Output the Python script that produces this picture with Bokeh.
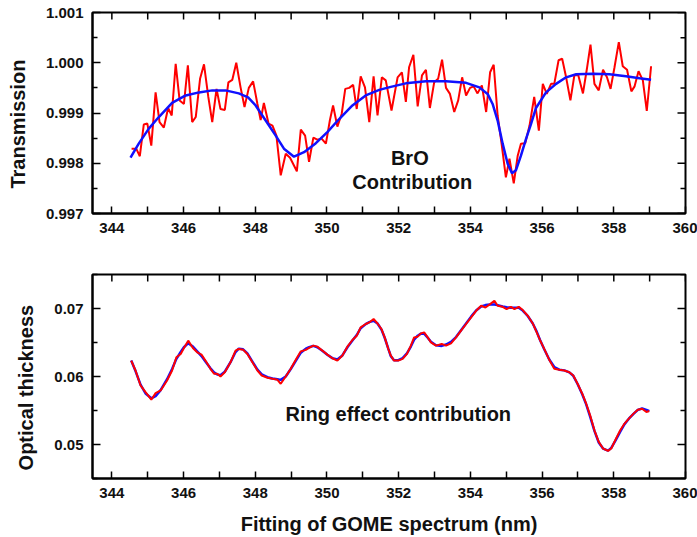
import math
from bokeh.plotting import figure
from bokeh.models import FixedTicker, PrintfTickFormatter, Label, Range1d
from bokeh.layouts import column
from bokeh.embed import file_html
from bokeh.resources import INLINE

FONT = "Liberation Sans"
TXT = "#111111"
NBSP = "\u00a0"

# ---------------- data ----------------
x_major = [344, 346, 348, 350, 352, 354, 356, 358, 360]
x_minor = [345, 347, 349, 351, 353, 355, 357, 359]

bro_major = [0.997, 0.998, 0.999, 1.000, 1.001]
bro_minor = [0.9975, 0.9985, 0.9995, 1.0005]
ring_major = [0.05, 0.06, 0.07]
ring_minor = [0.045, 0.055, 0.065, 0.075]

# BrO contribution: measured (red) and fitted (blue) transmission
bro_meas_x = [344.55, 344.68, 344.78, 344.89, 344.99, 345.10, 345.22, 345.33, 345.45, 345.57,
              345.67, 345.78, 345.89, 346.01, 346.12, 346.24, 346.34, 346.46, 346.57, 346.69,
              346.80, 346.92, 347.03, 347.15, 347.25, 347.36, 347.47, 347.59, 347.70, 347.82,
              347.94, 348.06, 348.15, 348.24, 348.37, 348.48, 348.59, 348.71, 348.85, 348.97,
              349.16, 349.27, 349.39, 349.50, 349.62, 349.73, 349.85, 349.97, 350.08, 350.17,
              350.29, 350.41, 350.51, 350.62, 350.73, 350.83, 350.94, 351.06, 351.18, 351.30,
              351.41, 351.53, 351.64, 351.80, 351.97, 352.09, 352.20, 352.29, 352.41, 352.53,
              352.65, 352.76, 352.87, 352.99, 353.10, 353.21, 353.32, 353.43, 353.55, 353.66,
              353.77, 353.88, 353.99, 354.09, 354.20, 354.32, 354.44, 354.55, 354.65, 354.76,
              354.87, 354.99, 355.09, 355.21, 355.32, 355.41, 355.53, 355.65, 355.78, 355.91,
              356.02, 356.13, 356.25, 356.34, 356.46, 356.56, 356.67, 356.79, 356.90, 357.01,
              357.14, 357.25, 357.35, 357.46, 357.58, 357.70, 357.81, 357.91, 358.02, 358.14,
              358.25, 358.37, 358.49, 358.58, 358.69, 358.81, 358.92, 359.04]
bro_meas_y = [0.99829, 0.99829, 0.99814, 0.99877, 0.99879, 0.99835, 0.99941, 0.99882, 0.99871, 0.99910,
              0.99895, 0.99998, 0.99925, 0.99918, 0.99995, 0.99882, 0.99892, 0.99968, 0.99997, 0.99932,
              0.99882, 0.99948, 0.99908, 0.99906, 0.99961, 0.99966, 1.00000, 0.99951, 0.99912, 0.99950,
              0.99963, 0.99918, 0.99886, 0.99920, 0.99879, 0.99875, 0.99855, 0.99776, 0.99819, 0.99811,
              0.99784, 0.99867, 0.99855, 0.99803, 0.99851, 0.99847, 0.99849, 0.99839, 0.99885, 0.99915,
              0.99873, 0.99898, 0.99948, 0.99950, 0.99956, 0.99908, 0.99973, 0.99951, 0.99882, 0.99973,
              0.99895, 0.99971, 0.99965, 0.99905, 0.99971, 0.99981, 0.99922, 0.99991, 1.00016, 0.99913,
              0.99975, 0.99986, 0.99910, 0.99961, 0.99968, 1.00006, 0.99950, 0.99938, 0.99902, 0.99925,
              0.99971, 0.99935, 0.99950, 0.99953, 0.99939, 0.99955, 0.99902, 0.99981, 0.99996, 0.99895,
              0.99839, 0.99772, 0.99809, 0.99760, 0.99815, 0.99839, 0.99840, 0.99875, 0.99932, 0.99865,
              0.99958, 0.99938, 0.99958, 0.99958, 1.00005, 1.00008, 0.99971, 0.99925, 0.99975, 0.99975,
              0.99939, 0.99988, 1.00036, 0.99958, 0.99945, 0.99986, 0.99971, 0.99948, 0.99991, 1.00041,
              0.99993, 0.99986, 0.99943, 0.99953, 0.99983, 0.99965, 0.99904, 0.99993]

bro_fit_x = [344.52, 344.75, 345.03, 345.31, 345.68, 346.06, 346.43, 346.80, 347.17, 347.54,
             347.80, 348.01, 348.29, 348.57, 348.80, 349.08, 349.36, 349.69, 350.01, 350.34,
             350.71, 351.08, 351.46, 351.78, 352.20, 352.76, 353.32, 353.88, 354.25, 354.48,
             354.62, 354.76, 354.90, 355.04, 355.16, 355.27, 355.41, 355.55, 355.69, 355.83,
             356.11, 356.39, 356.67, 356.95, 357.42, 357.88, 358.34, 358.72, 359.04]
bro_fit_y = [0.99811, 0.99839, 0.99869, 0.99892, 0.99920, 0.99935, 0.99941, 0.99945, 0.99945, 0.99939,
             0.99931, 0.99915, 0.99885, 0.99855, 0.99829, 0.99813, 0.99822, 0.99840, 0.99862, 0.99888,
             0.99915, 0.99935, 0.99946, 0.99952, 0.99959, 0.99963, 0.99963, 0.99960, 0.99951, 0.99938,
             0.99918, 0.99885, 0.99839, 0.99799, 0.99780, 0.99786, 0.99815, 0.99848, 0.99878, 0.99910,
             0.99941, 0.99958, 0.99971, 0.99977, 0.99978, 0.99977, 0.99973, 0.99969, 0.99966]

# Ring effect contribution: measured (red) and fitted (blue) optical thickness
ring_x = [344.54, 344.66, 344.80, 344.94, 345.10, 345.22, 345.36, 345.54, 345.68, 345.80,
          345.92, 346.01, 346.13, 346.26, 346.38, 346.50, 346.61, 346.75, 346.85, 346.94,
          347.03, 347.15, 347.31, 347.45, 347.54, 347.66, 347.78, 347.92, 348.06, 348.18,
          348.34, 348.48, 348.62, 348.71, 348.85, 348.99, 349.13, 349.27, 349.41, 349.50,
          349.62, 349.73, 349.87, 350.01, 350.15, 350.29, 350.43, 350.57, 350.71, 350.83,
          350.94, 351.08, 351.18, 351.30, 351.41, 351.52, 351.61, 351.71, 351.78, 351.87,
          351.99, 352.11, 352.23, 352.34, 352.43, 352.53, 352.62, 352.71, 352.81, 352.90,
          353.04, 353.20, 353.32, 353.46, 353.60, 353.74, 353.88, 354.02, 354.16, 354.30,
          354.42, 354.55, 354.67, 354.76, 354.90, 355.01, 355.13, 355.23, 355.35, 355.46,
          355.60, 355.74, 355.85, 355.94, 356.06, 356.20, 356.34, 356.48, 356.62, 356.76,
          356.87, 356.99, 357.12, 357.23, 357.34, 357.46, 357.58, 357.70, 357.84, 357.93,
          358.05, 358.18, 358.30, 358.42, 358.55, 358.67, 358.79, 358.91, 358.99]
ring_meas = [0.06234, 0.06088, 0.05868, 0.05770, 0.05659, 0.05756, 0.05795, 0.05941, 0.06088, 0.06283,
             0.06332, 0.06420, 0.06527, 0.06420, 0.06356, 0.06322, 0.06234, 0.06113, 0.06040, 0.06040,
             0.06000, 0.06063, 0.06209, 0.06381, 0.06406, 0.06395, 0.06332, 0.06209, 0.06088, 0.06015,
             0.05981, 0.05966, 0.05952, 0.05893, 0.06000, 0.06113, 0.06246, 0.06370, 0.06391, 0.06420,
             0.06454, 0.06439, 0.06381, 0.06322, 0.06268, 0.06234, 0.06308, 0.06439, 0.06537, 0.06600,
             0.06722, 0.06772, 0.06795, 0.06845, 0.06780, 0.06698, 0.06575, 0.06406, 0.06308, 0.06234,
             0.06234, 0.06259, 0.06332, 0.06454, 0.06575, 0.06586, 0.06634, 0.06649, 0.06575, 0.06502,
             0.06454, 0.06479, 0.06454, 0.06488, 0.06575, 0.06674, 0.06772, 0.06868, 0.06966, 0.07040,
             0.07015, 0.07064, 0.07113, 0.07040, 0.07025, 0.06991, 0.07025, 0.06991, 0.07025, 0.06977,
             0.06893, 0.06780, 0.06649, 0.06537, 0.06406, 0.06245, 0.06113, 0.06098, 0.06088, 0.06063,
             0.06015, 0.05893, 0.05747, 0.05600, 0.05429, 0.05209, 0.05038, 0.04941, 0.04906, 0.04941,
             0.05073, 0.05209, 0.05308, 0.05381, 0.05454, 0.05512, 0.05527, 0.05477, 0.05492]
ring_fit = [0.06234, 0.06080, 0.05880, 0.05750, 0.05680, 0.05710, 0.05800, 0.05960, 0.06110, 0.06260,
            0.06360, 0.06430, 0.06490, 0.06440, 0.06370, 0.06300, 0.06220, 0.06120, 0.06060, 0.06030,
            0.06020, 0.06070, 0.06210, 0.06360, 0.06410, 0.06400, 0.06340, 0.06220, 0.06100, 0.06030,
            0.05990, 0.05970, 0.05960, 0.05950, 0.06000, 0.06110, 0.06230, 0.06350, 0.06410, 0.06430,
            0.06450, 0.06430, 0.06380, 0.06320, 0.06270, 0.06250, 0.06310, 0.06430, 0.06530, 0.06610,
            0.06710, 0.06770, 0.06800, 0.06820, 0.06780, 0.06690, 0.06570, 0.06410, 0.06300, 0.06240,
            0.06240, 0.06270, 0.06340, 0.06440, 0.06540, 0.06600, 0.06630, 0.06630, 0.06570, 0.06510,
            0.06460, 0.06450, 0.06470, 0.06510, 0.06580, 0.06680, 0.06780, 0.06880, 0.06970, 0.07030,
            0.07050, 0.07060, 0.07060, 0.07050, 0.07030, 0.07020, 0.07010, 0.07010, 0.07010, 0.06970,
            0.06890, 0.06780, 0.06660, 0.06540, 0.06400, 0.06250, 0.06140, 0.06100, 0.06090, 0.06060,
            0.06010, 0.05890, 0.05740, 0.05590, 0.05410, 0.05200, 0.05030, 0.04940, 0.04910, 0.04950,
            0.05060, 0.05190, 0.05300, 0.05380, 0.05450, 0.05510, 0.05530, 0.05510, 0.05490]

X0, X1 = 343.46, 360.0


def cfg_axis(ax, ticker, fmt, major_in, minor_in):
    ax.ticker = ticker
    ax.formatter = PrintfTickFormatter(format=fmt)
    ax.axis_line_color = "black"
    ax.axis_line_width = 2
    ax.major_tick_in = major_in
    ax.major_tick_out = 0
    ax.minor_tick_in = minor_in
    ax.minor_tick_out = 0
    ax.major_tick_line_width = 1.5
    ax.minor_tick_line_width = 1.5
    ax.major_tick_line_color = "black"
    ax.minor_tick_line_color = "black"
    ax.major_label_text_font = FONT
    ax.major_label_text_font_style = "bold"
    ax.major_label_text_color = TXT
    ax.major_label_text_font_size = "15px"
    ax.major_label_standoff = 9
    ax.axis_label_text_font = FONT
    ax.axis_label_text_font_style = "bold"
    ax.axis_label_text_font_size = "20px"
    ax.axis_label_text_color = TXT


def mirror_ticks(p, y1, ymaj, ymin):
    # inward ticks on the top and right edges (outer halves are clipped by the frame)
    p.scatter(x_major, [y1] * len(x_major), marker="dash", size=14, angle=math.pi / 2,
              line_color="black", line_width=1.5)
    p.scatter(x_minor, [y1] * len(x_minor), marker="dash", size=14, angle=math.pi / 2,
              line_color="black", line_width=1.5)
    p.scatter([X1] * len(ymaj), ymaj, marker="dash", size=16,
              line_color="black", line_width=1.5)
    p.scatter([X1] * len(ymin), ymin, marker="dash", size=10,
              line_color="black", line_width=1.5)


def make_fig(height, ymin, ymax, yt_major, yt_minor, yfmt, top, bottom, ylabel):
    p = figure(width=697, height=height, output_backend="svg", toolbar_location=None,
               x_range=Range1d(X0, X1), y_range=Range1d(ymin, ymax),
               min_border_left=92, min_border_right=12, min_border_top=top,
               min_border_bottom=bottom)
    p.xgrid.visible = False
    p.ygrid.visible = False
    p.outline_line_color = "black"
    p.outline_line_width = 2
    p.background_fill_color = "white"
    p.border_fill_color = "white"
    cfg_axis(p.below[0], FixedTicker(ticks=x_major, minor_ticks=x_minor), "%d", 7, 7)
    cfg_axis(p.left[0], FixedTicker(ticks=yt_major, minor_ticks=yt_minor), yfmt, 8, 5)
    # trailing non-breaking spaces nudge the centred label toward the bottom, as in the original
    p.left[0].axis_label = ylabel + NBSP * 4
    p.left[0].axis_label_standoff = 14
    mirror_ticks(p, ymax, yt_major, yt_minor)
    return p


def text(p, x, y, s):
    p.add_layout(Label(x=x, y=y, text=s, text_align="center",
                       text_baseline="alphabetic", text_font=FONT, text_font_style="bold",
                       text_font_size="20px", text_color=TXT))


p1 = make_fig(248, 0.997, 1.001, bro_major, bro_minor, "%.3f", 12, 35, "Transmission")
p1.line(bro_meas_x, bro_meas_y, line_color="#ff0000", line_width=2)
p1.line(bro_fit_x, bro_fit_y, line_color="#1010ff", line_width=2.5)
text(p1, 352.31, 0.998114, "BrO")
text(p1, 352.38, 0.997617, "Contribution")

p2 = make_fig(289, 0.045, 0.075, ring_major, ring_minor, "%.2f", 26, 59, "Optical thickness")
p2.line(ring_x, ring_fit, line_color="#1010ff", line_width=2.5)
p2.line(ring_x, ring_meas, line_color="#ff0000", line_width=2)
text(p2, 351.99, 0.05451, "Ring effect contribution")
p2.below[0].axis_label = "Fitting of GOME spectrum (nm)"
p2.below[0].axis_label_standoff = 12

layout = column(p1, p2)
open("out.html", "w").write(file_html(layout, INLINE))
